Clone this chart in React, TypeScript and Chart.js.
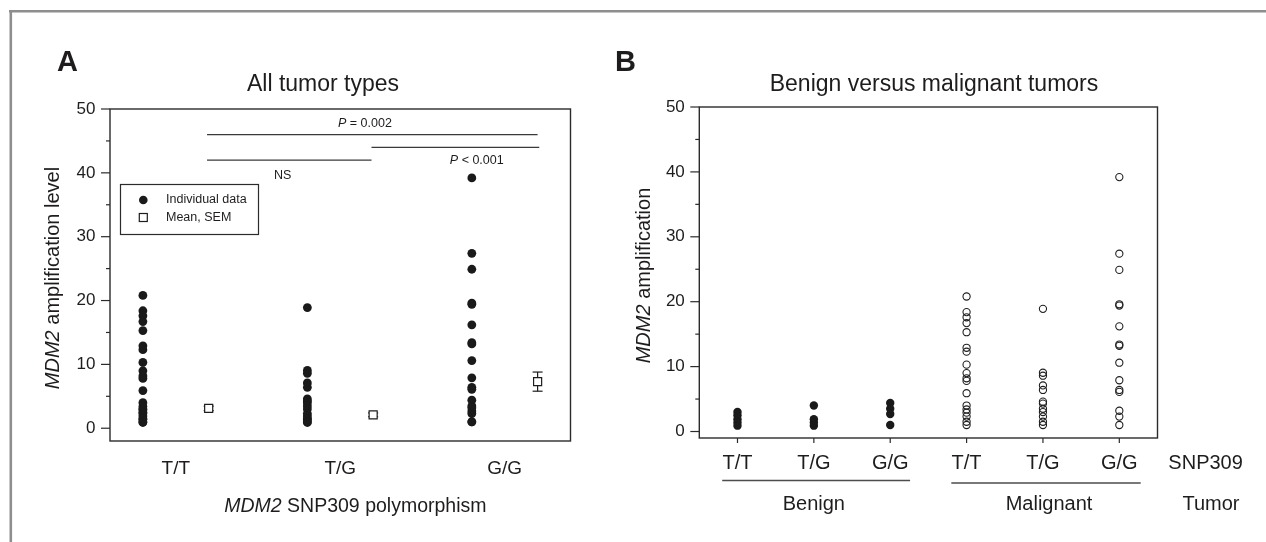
import React, { useEffect, useRef } from 'react';
import { Chart, registerables } from 'chart.js';

Chart.register(...registerables);

// ---------- data ----------
const genotypes = ['T/T', 'T/G', 'G/G'];
const tumorGroups = ['Benign', 'Malignant'];

const benignTT = [3.0, 2.5, 1.9, 1.4, 0.9];
const benignTG = [4.0, 1.9, 1.4, 0.9];
const benignGG = [4.4, 3.5, 2.7, 1.0];

const malignantTT = [20.8, 18.4, 17.6, 16.7, 15.3, 12.9, 12.3, 10.3, 9.0, 8.2, 7.8, 5.9, 4.0, 3.4, 2.9, 2.3, 1.5, 1.0];
const malignantTG = [18.9, 9.05, 8.6, 7.1, 6.4, 4.6, 4.3, 3.5, 3.0, 2.3, 1.5, 1.0];
const malignantGG = [39.2, 27.4, 24.9, 19.6, 19.4, 16.2, 13.4, 13.2, 10.6, 7.9, 6.4, 6.1, 3.2, 2.3, 1.0];

const meansA = [3.1, 2.1, 7.3];
const semA = [0.35, 0.3, 1.5];

const yTickValues = [0, 5, 10, 15, 20, 25, 30, 35, 40, 45, 50];

// significance brackets (data coordinates of panel A)
const sigLines = [
  { from: 1.19, to: 3.2, y: 46 },
  { from: 2.19, to: 3.21, y: 44 },
  { from: 1.19, to: 2.19, y: 42 },
];
const sigLabels = [
  { parts: [{ t: 'P', i: true }, { t: ' = 0.002', i: false }], x: 2.15, y: 47.7 },
  { parts: [{ t: 'P', i: true }, { t: ' < 0.001', i: false }], x: 2.83, y: 41.9 },
  { parts: [{ t: 'NS', i: false }], x: 1.65, y: 39.5 },
];

// ---------- styling ----------
const W = 1266;
const H = 542;
const FONT = "'Liberation Sans', Arial, Helvetica, sans-serif";
const INK = '#1f1c1d';
const AXIS = '#2b2b2b';

type Part = { t: string; i: boolean };

function drawParts(ctx: CanvasRenderingContext2D, parts: Part[], x: number, y: number, size: number, align: 'left' | 'center' | 'right' = 'center', bold = false, color = INK) {
  const fontOf = (p: Part) => `${p.i ? 'italic ' : ''}${bold ? 'bold ' : ''}${size}px ${FONT}`;
  let total = 0;
  const widths = parts.map((p) => {
    ctx.font = fontOf(p);
    const w = ctx.measureText(p.t).width;
    total += w;
    return w;
  });
  let cx = align === 'center' ? x - total / 2 : align === 'right' ? x - total : x;
  ctx.textAlign = 'left';
  ctx.textBaseline = 'middle';
  ctx.fillStyle = color;
  parts.forEach((p, k) => {
    ctx.font = fontOf(p);
    ctx.fillText(p.t, cx, y);
    cx += widths[k];
  });
}

function drawRotated(ctx: CanvasRenderingContext2D, parts: Part[], x: number, y: number, size: number) {
  ctx.save();
  ctx.translate(x, y);
  ctx.rotate(-Math.PI / 2);
  drawParts(ctx, parts, 0, 0, size, 'center');
  ctx.restore();
}

function line(ctx: CanvasRenderingContext2D, x1: number, y1: number, x2: number, y2: number, color = AXIS, w = 1.3) {
  ctx.beginPath();
  ctx.strokeStyle = color;
  ctx.lineWidth = w;
  ctx.moveTo(x1, y1);
  ctx.lineTo(x2, y2);
  ctx.stroke();
}

function boxAndYTicks(chart: any) {
  const ctx = chart.ctx as CanvasRenderingContext2D;
  const { left, right, top, bottom } = chart.chartArea;
  const y = chart.scales.y;
  ctx.save();
  ctx.strokeStyle = AXIS;
  ctx.lineWidth = 1.4;
  ctx.strokeRect(left, top, right - left, bottom - top);
  yTickValues.forEach((v) => {
    const py = y.getPixelForValue(v);
    const len = v % 10 === 0 ? 9 : 4;
    line(ctx, left - len, py, left, py, AXIS, 1.2);
  });
  ctx.restore();
}

const yScale = (min: number) => ({
  type: 'linear' as const,
  min,
  max: 50,
  grid: { display: false, drawTicks: false },
  border: { display: false },
  afterBuildTicks: (s: any) => {
    s.ticks = yTickValues.map((v) => ({ value: v }));
  },
  afterFit: (s: any) => {
    s.width = 60;
  },
  ticks: {
    autoSkip: false,
    padding: 14.5,
    color: INK,
    font: { family: FONT, size: 17, lineHeight: 1.2 },
    callback: (v: any) => (Number(v) % 10 === 0 ? String(v) : ''),
  },
});

export default function App() {
  const refA = useRef<HTMLCanvasElement>(null);
  const refB = useRef<HTMLCanvasElement>(null);

  useEffect(() => {
    const dotOffset = 0.2;
    const groupsA = [
      [...benignTT, ...malignantTT],
      [...benignTG, ...malignantTG],
      [...benignGG, ...malignantGG],
    ];
    const individual = groupsA.flatMap((vals, i) => vals.map((v) => ({ x: i + 1 - dotOffset, y: v })));
    const meanPts = meansA.map((m, i) => ({ x: i + 1 + dotOffset, y: m }));

    const panelAPlugin = {
      id: 'panelA',
      beforeDraw(chart: any) {
        const ctx = chart.ctx as CanvasRenderingContext2D;
        ctx.save();
        line(ctx, 9, 11.3, W, 11.3, '#8e8e8e', 2.6);
        line(ctx, 10.8, 10, 10.8, H, '#8e8e8e', 2.6);
        ctx.restore();
      },
      beforeDatasetsDraw(chart: any) {
        const ctx = chart.ctx as CanvasRenderingContext2D;
        const x = chart.scales.x;
        const y = chart.scales.y;
        ctx.save();
        meansA.forEach((m, i) => {
          const px = x.getPixelForValue(i + 1 + dotOffset);
          const y1 = y.getPixelForValue(m - semA[i]);
          const y2 = y.getPixelForValue(m + semA[i]);
          line(ctx, px, y1, px, y2, INK, 1.2);
          line(ctx, px - 5, y1, px + 5, y1, INK, 1.2);
          line(ctx, px - 5, y2, px + 5, y2, INK, 1.2);
        });
        ctx.restore();
      },
      afterDraw(chart: any) {
        const ctx = chart.ctx as CanvasRenderingContext2D;
        const x = chart.scales.x;
        const y = chart.scales.y;
        const { top, bottom } = chart.chartArea;
        ctx.save();
        boxAndYTicks(chart);
        ctx.font = `bold 29px ${FONT}`;
        ctx.fillStyle = INK;
        ctx.textAlign = 'left';
        ctx.textBaseline = 'alphabetic';
        ctx.fillText('A', 57, 71);
        ctx.font = `23px ${FONT}`;
        ctx.textAlign = 'center';
        ctx.fillText('All tumor types', 323, 91);
        drawRotated(ctx, [{ t: 'MDM2', i: true }, { t: ' amplification level', i: false }], 53, (top + bottom) / 2 + 3, 20);
        drawParts(ctx, [{ t: 'MDM2', i: true }, { t: ' SNP309 polymorphism', i: false }], 486.5, 506.5, 19.5, 'right');
        sigLines.forEach((s) => {
          const py = y.getPixelForValue(s.y);
          line(ctx, x.getPixelForValue(s.from), py, x.getPixelForValue(s.to), py, '#3a3a3a', 1.3);
        });
        sigLabels.forEach((s) => {
          drawParts(ctx, s.parts, x.getPixelForValue(s.x), y.getPixelForValue(s.y), 12.5, 'center');
        });
        ctx.strokeStyle = AXIS;
        ctx.lineWidth = 1.2;
        ctx.strokeRect(120.5, 184.5, 138, 50);
        ctx.beginPath();
        ctx.fillStyle = '#1a1a1a';
        ctx.arc(143.3, 200, 4.3, 0, Math.PI * 2);
        ctx.fill();
        ctx.fillStyle = '#fff';
        ctx.fillRect(139.3, 213.5, 8, 8);
        ctx.strokeStyle = INK;
        ctx.strokeRect(139.3, 213.5, 8, 8);
        drawParts(ctx, [{ t: 'Individual data', i: false }], 166, 200, 12.5, 'left');
        drawParts(ctx, [{ t: 'Mean, SEM', i: false }], 166, 217.5, 12.5, 'left');
        ctx.restore();
      },
    };

    const chartA = new Chart(refA.current as HTMLCanvasElement, {
      type: 'scatter',
      data: {
        datasets: [
          {
            label: 'Individual data',
            data: individual,
            pointStyle: 'circle',
            pointRadius: 4.4,
            pointBackgroundColor: '#1a1a1a',
            pointBorderColor: '#1a1a1a',
            pointBorderWidth: 0,
          },
          {
            label: 'Mean, SEM',
            data: meanPts,
            pointStyle: 'rect',
            pointRadius: 5.7,
            pointBackgroundColor: '#ffffff',
            pointBorderColor: INK,
            pointBorderWidth: 1.2,
          },
        ],
      },
      options: {
        responsive: false,
        animation: false,
        devicePixelRatio: 1,
        layout: { padding: { left: 50, right: W - 570.5, top: 109, bottom: H - 441 - 60 } },
        plugins: { legend: { display: false }, tooltip: { enabled: false }, title: { display: false } },
        scales: {
          x: {
            type: 'linear',
            min: 0.6,
            max: 3.4,
            grid: { display: false, drawTicks: false },
            border: { display: false },
            afterBuildTicks: (s: any) => {
              s.ticks = genotypes.map((_, i) => ({ value: i + 1 }));
            },
            afterFit: (s: any) => {
              s.height = 60;
            },
            ticks: {
              autoSkip: false,
              maxRotation: 0,
              padding: 16,
              color: INK,
              font: { family: FONT, size: 19, lineHeight: 1.2 },
              callback: (v: any) => genotypes[Math.round(Number(v)) - 1] ?? '',
            },
          },
          y: yScale(-2),
        },
      } as any,
      plugins: [panelAPlugin],
    });

    const benignSets = [benignTT, benignTG, benignGG];
    const malignantSets = [malignantTT, malignantTG, malignantGG];
    const bCategories = [...genotypes, ...genotypes];
    const benignPts = benignSets.flatMap((vals, i) => vals.map((v) => ({ x: i + 1, y: v })));
    const malignantPts = malignantSets.flatMap((vals, i) => vals.map((v) => ({ x: i + 4, y: v })));

    const panelBPlugin = {
      id: 'panelB',
      afterDraw(chart: any) {
        const ctx = chart.ctx as CanvasRenderingContext2D;
        const x = chart.scales.x;
        const { top, bottom } = chart.chartArea;
        ctx.save();
        boxAndYTicks(chart);
        bCategories.forEach((_, i) => {
          const px = x.getPixelForValue(i + 1);
          line(ctx, px, bottom, px, bottom + 5, AXIS, 1.2);
        });
        ctx.font = `bold 29px ${FONT}`;
        ctx.fillStyle = INK;
        ctx.textAlign = 'left';
        ctx.textBaseline = 'alphabetic';
        ctx.fillText('B', 615, 71);
        ctx.font = `23px ${FONT}`;
        ctx.textAlign = 'center';
        ctx.fillText('Benign versus malignant tumors', 934, 91);
        drawRotated(ctx, [{ t: 'MDM2', i: true }, { t: ' amplification', i: false }], 644, (top + bottom) / 2 + 3, 20);
        line(ctx, x.getPixelForValue(0.8), 480.5, x.getPixelForValue(3.26), 480.5, '#4d4d4d', 1.7);
        line(ctx, x.getPixelForValue(3.8), 483, x.getPixelForValue(6.28), 483, '#4d4d4d', 1.7);
        drawParts(ctx, [{ t: tumorGroups[0], i: false }], x.getPixelForValue(2), 504.7, 20, 'center');
        drawParts(ctx, [{ t: tumorGroups[1], i: false }], x.getPixelForValue(5.08), 504.7, 20, 'center');
        drawParts(ctx, [{ t: 'SNP309', i: false }], x.getPixelForValue(7.13), 463, 20, 'center');
        drawParts(ctx, [{ t: 'Tumor', i: false }], x.getPixelForValue(7.2), 504.7, 20, 'center');
        ctx.restore();
      },
    };

    const chartB = new Chart(refB.current as HTMLCanvasElement, {
      type: 'scatter',
      data: {
        datasets: [
          {
            label: 'Benign',
            data: benignPts,
            pointStyle: 'circle',
            pointRadius: 4.2,
            pointBackgroundColor: '#1a1a1a',
            pointBorderColor: '#1a1a1a',
            pointBorderWidth: 0,
          },
          {
            label: 'Malignant',
            data: malignantPts,
            pointStyle: 'circle',
            pointRadius: 3.6,
            pointBackgroundColor: 'rgba(255,255,255,0)',
            pointBorderColor: '#1f1f1f',
            pointBorderWidth: 1.1,
          },
        ],
      },
      options: {
        responsive: false,
        animation: false,
        devicePixelRatio: 1,
        layout: { padding: { left: 699.3 - 60, right: W - 1157.5, top: 107, bottom: H - 438 - 60 } },
        plugins: { legend: { display: false }, tooltip: { enabled: false }, title: { display: false } },
        scales: {
          x: {
            type: 'linear',
            min: 0.5,
            max: 6.5,
            grid: { display: false, drawTicks: false },
            border: { display: false },
            afterBuildTicks: (s: any) => {
              s.ticks = bCategories.map((_, i) => ({ value: i + 1 }));
            },
            afterFit: (s: any) => {
              s.height = 60;
            },
            ticks: {
              autoSkip: false,
              maxRotation: 0,
              padding: 13,
              color: INK,
              font: { family: FONT, size: 20, lineHeight: 1.2 },
              callback: (v: any) => bCategories[Math.round(Number(v)) - 1] ?? '',
            },
          },
          y: yScale(-1),
        },
      } as any,
      plugins: [panelBPlugin],
    });

    return () => {
      chartA.destroy();
      chartB.destroy();
    };
  }, []);

  const canvasStyle: React.CSSProperties = { position: 'absolute', left: 0, top: 0, width: W, height: H };
  return (
    <div style={{ position: 'absolute', left: 0, top: 0, width: W, height: H, background: '#fff', overflow: 'hidden' }}>
      <canvas ref={refA} width={W} height={H} style={canvasStyle} />
      <canvas ref={refB} width={W} height={H} style={canvasStyle} />
    </div>
  );
}
